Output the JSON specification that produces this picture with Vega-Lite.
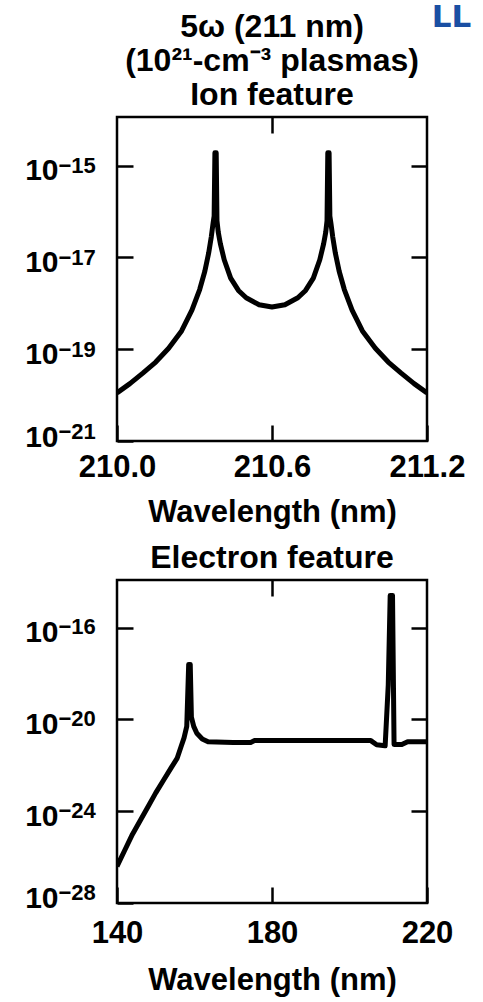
{
  "$schema": "https://vega.github.io/schema/vega-lite/v6.json",
  "padding": {"left": 23, "top": 1, "right": 0, "bottom": 0},
  "background": "white",
  "title": {"text": "LL", "anchor": "end", "orient": "top", "frame": "bounds", "offset": -24, "dx": 5, "fontSize": 31, "fontWeight": "bold", "color": "#1a4fa3", "font": "DejaVu Sans"},
  "datasets": {
    "ion": [
      {"wavelength": 210.00, "intensity": 1.12e-20},
      {"wavelength": 210.05, "intensity": 1.78e-20},
      {"wavelength": 210.10, "intensity": 3.02e-20},
      {"wavelength": 210.15, "intensity": 5.25e-20},
      {"wavelength": 210.20, "intensity": 1.05e-19},
      {"wavelength": 210.25, "intensity": 2.51e-19},
      {"wavelength": 210.29, "intensity": 7.08e-19},
      {"wavelength": 210.32, "intensity": 2.0e-18},
      {"wavelength": 210.34, "intensity": 5.01e-18},
      {"wavelength": 210.355, "intensity": 1.26e-17},
      {"wavelength": 210.365, "intensity": 2.82e-17},
      {"wavelength": 210.372, "intensity": 5.62e-17},
      {"wavelength": 210.376, "intensity": 7.94e-17},
      {"wavelength": 210.379, "intensity": 1.91e-15},
      {"wavelength": 210.384, "intensity": 1.91e-15},
      {"wavelength": 210.387, "intensity": 6.31e-17},
      {"wavelength": 210.392, "intensity": 3.55e-17},
      {"wavelength": 210.40, "intensity": 2.0e-17},
      {"wavelength": 210.415, "intensity": 8.91e-18},
      {"wavelength": 210.44, "intensity": 3.55e-18},
      {"wavelength": 210.47, "intensity": 1.91e-18},
      {"wavelength": 210.50, "intensity": 1.32e-18},
      {"wavelength": 210.55, "intensity": 9.33e-19},
      {"wavelength": 210.60, "intensity": 8.32e-19},
      {"wavelength": 210.65, "intensity": 9.33e-19},
      {"wavelength": 210.70, "intensity": 1.32e-18},
      {"wavelength": 210.73, "intensity": 1.91e-18},
      {"wavelength": 210.76, "intensity": 3.55e-18},
      {"wavelength": 210.785, "intensity": 8.91e-18},
      {"wavelength": 210.80, "intensity": 2.0e-17},
      {"wavelength": 210.808, "intensity": 3.55e-17},
      {"wavelength": 210.813, "intensity": 6.31e-17},
      {"wavelength": 210.816, "intensity": 1.91e-15},
      {"wavelength": 210.821, "intensity": 1.91e-15},
      {"wavelength": 210.824, "intensity": 7.94e-17},
      {"wavelength": 210.828, "intensity": 5.62e-17},
      {"wavelength": 210.835, "intensity": 2.82e-17},
      {"wavelength": 210.845, "intensity": 1.26e-17},
      {"wavelength": 210.86, "intensity": 5.01e-18},
      {"wavelength": 210.88, "intensity": 2.0e-18},
      {"wavelength": 210.91, "intensity": 7.08e-19},
      {"wavelength": 210.95, "intensity": 2.51e-19},
      {"wavelength": 211.00, "intensity": 1.05e-19},
      {"wavelength": 211.05, "intensity": 5.25e-20},
      {"wavelength": 211.10, "intensity": 3.02e-20},
      {"wavelength": 211.15, "intensity": 1.78e-20},
      {"wavelength": 211.20, "intensity": 1.12e-20}
    ],
    "electron": [
      {"wavelength": 140, "intensity": 3.98e-27},
      {"wavelength": 142, "intensity": 2.0e-26},
      {"wavelength": 144, "intensity": 1.0e-25},
      {"wavelength": 146, "intensity": 3.98e-25},
      {"wavelength": 148, "intensity": 1.58e-24},
      {"wavelength": 150, "intensity": 6.31e-24},
      {"wavelength": 152, "intensity": 2.24e-23},
      {"wavelength": 154, "intensity": 7.94e-23},
      {"wavelength": 155.5, "intensity": 2.0e-22},
      {"wavelength": 156.5, "intensity": 6.31e-22},
      {"wavelength": 157.3, "intensity": 1.58e-21},
      {"wavelength": 158.0, "intensity": 5.01e-21},
      {"wavelength": 158.5, "intensity": 2.51e-18},
      {"wavelength": 158.9, "intensity": 2.51e-18},
      {"wavelength": 159.2, "intensity": 1.26e-20},
      {"wavelength": 159.8, "intensity": 5.01e-21},
      {"wavelength": 160.6, "intensity": 2.51e-21},
      {"wavelength": 162, "intensity": 1.41e-21},
      {"wavelength": 163.5, "intensity": 1.07e-21},
      {"wavelength": 170, "intensity": 1.0e-21},
      {"wavelength": 174.5, "intensity": 1.0e-21},
      {"wavelength": 175.5, "intensity": 1.2e-21},
      {"wavelength": 190, "intensity": 1.2e-21},
      {"wavelength": 205.5, "intensity": 1.2e-21},
      {"wavelength": 207, "intensity": 7.94e-22},
      {"wavelength": 209.2, "intensity": 7.08e-22},
      {"wavelength": 210.0, "intensity": 3.16e-19},
      {"wavelength": 210.5, "intensity": 2.51e-15},
      {"wavelength": 211.1, "intensity": 2.51e-15},
      {"wavelength": 211.5, "intensity": 8.13e-22},
      {"wavelength": 213.5, "intensity": 8.13e-22},
      {"wavelength": 215, "intensity": 1.07e-21},
      {"wavelength": 220, "intensity": 1.07e-21}
    ]
  },
  "vconcat": [
    {
      "width": 310,
      "height": 324,
      "title": {"text": ["5ω (211 nm)", "(10²¹-cm⁻³ plasmas)", "Ion feature"], "lineHeight": 34, "offset": 4, "frame": "group", "anchor": "middle"},
      "data": {"name": "ion"},
      "layer": [
        {
          "mark": {"type": "line", "color": "black", "strokeWidth": 5, "strokeJoin": "round", "clip": true},
          "encoding": {
            "x": {"field": "wavelength", "type": "quantitative",
                  "scale": {"domain": [210.0, 211.2], "nice": false, "zero": false},
                  "axis": {"orient": "bottom", "values": [210.0, 210.6, 211.2], "format": ".1f", "title": "Wavelength (nm)", "labelFlush": false, "labelPadding": 27, "titlePadding": 15}},
            "y": {"field": "intensity", "type": "quantitative",
                  "scale": {"type": "log", "domain": [1e-21, 1.15e-14], "nice": false},
                  "axis": {"orient": "left", "values": [1e-21, 1e-19, 1e-17, 1e-15], "title": null, "labelPadding": 75, "labelFontSize": 30,
                           "labelOffset": {"condition": {"test": "datum.value < 1e-20", "value": -4}, "value": 5},
                           "labelExpr": "'10'"}}
          }
        },
        {
          "mark": {"type": "line", "opacity": 0},
          "encoding": {
            "x": {"field": "wavelength", "type": "quantitative", "axis": {"orient": "top", "values": [210.6], "labels": false, "title": null}},
            "y": {"field": "intensity", "type": "quantitative", "axis": {"orient": "right", "values": [1e-19, 1e-17, 1e-15], "labels": false, "title": null}}
          }
        },
        {
          "mark": {"type": "line", "opacity": 0},
          "encoding": {
            "x": {"field": "wavelength", "type": "quantitative", "axis": null},
            "y": {"field": "intensity", "type": "quantitative",
                  "axis": {"orient": "left", "values": [1e-21, 1e-19, 1e-17, 1e-15], "title": null, "ticks": false, "tickSize": 0, "labelPadding": 59, "labelAlign": "left", "labelFontSize": 22,
                           "labelOffset": {"condition": {"test": "datum.value < 1e-20", "value": -10}, "value": 0},
                           "labelExpr": "datum.value < 1e-20 ? '−21' : datum.value < 1e-18 ? '−19' : datum.value < 1e-16 ? '−17' : '−15'"}}
          }
        }
      ],
      "resolve": {"axis": {"x": "independent", "y": "independent"}}
    },
    {
      "width": 310,
      "height": 323,
      "title": {"text": "Electron feature", "offset": 4, "frame": "group", "anchor": "middle"},
      "data": {"name": "electron"},
      "layer": [
        {
          "mark": {"type": "line", "color": "black", "strokeWidth": 5, "strokeJoin": "round", "clip": true},
          "encoding": {
            "x": {"field": "wavelength", "type": "quantitative",
                  "scale": {"domain": [140, 220], "nice": false, "zero": false},
                  "axis": {"orient": "bottom", "values": [140, 180, 220], "format": "d", "title": "Wavelength (nm)", "labelFlush": false, "labelPadding": 31, "titlePadding": 17}},
            "y": {"field": "intensity", "type": "quantitative",
                  "scale": {"type": "log", "domain": [1e-28, 1.2e-14], "nice": false},
                  "axis": {"orient": "left", "values": [1e-28, 1e-24, 1e-20, 1e-16], "title": null, "labelPadding": 75, "labelFontSize": 30,
                           "labelOffset": {"condition": {"test": "datum.value < 1e-27", "value": -5}, "value": 5},
                           "labelExpr": "'10'"}}
          }
        },
        {
          "mark": {"type": "line", "opacity": 0},
          "encoding": {
            "x": {"field": "wavelength", "type": "quantitative", "axis": {"orient": "top", "values": [180], "labels": false, "title": null}},
            "y": {"field": "intensity", "type": "quantitative", "axis": {"orient": "right", "values": [1e-24, 1e-20, 1e-16], "labels": false, "title": null}}
          }
        },
        {
          "mark": {"type": "line", "opacity": 0},
          "encoding": {
            "x": {"field": "wavelength", "type": "quantitative", "axis": null},
            "y": {"field": "intensity", "type": "quantitative",
                  "axis": {"orient": "left", "values": [1e-28, 1e-24, 1e-20, 1e-16], "title": null, "ticks": false, "tickSize": 0, "labelPadding": 59, "labelAlign": "left", "labelFontSize": 22,
                           "labelOffset": {"condition": {"test": "datum.value < 1e-27", "value": -11}, "value": -1},
                           "labelExpr": "datum.value < 1e-26 ? '−28' : datum.value < 1e-22 ? '−24' : datum.value < 1e-18 ? '−20' : '−16'"}}
          }
        }
      ],
      "resolve": {"axis": {"x": "independent", "y": "independent"}}
    }
  ],
  "spacing": 11,
  "config": {
    "font": "Liberation Sans",
    "view": {"stroke": "black", "strokeWidth": 2.5},
    "axis": {
      "domain": false, "grid": false,
      "tickColor": "black", "tickWidth": 2.5, "tickSize": -16,
      "labelFont": "Liberation Sans", "labelFontSize": 31, "labelFontWeight": "bold", "labelColor": "black",
      "titleFont": "Liberation Sans", "titleFontSize": 31, "titleFontWeight": "bold", "titleColor": "black"
    },
    "title": {"font": "Liberation Sans", "fontSize": 32, "fontWeight": "bold", "color": "black"}
  }
}
